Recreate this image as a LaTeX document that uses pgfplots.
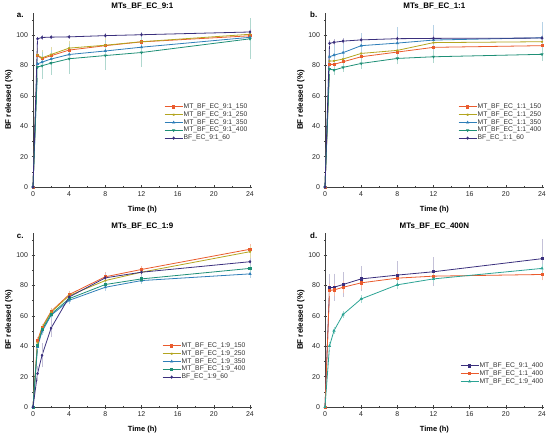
\documentclass[border=0pt]{standalone}
\usepackage{fontspec}
\setmainfont{Liberation Sans}
\usepackage{pgfplots}
\pgfplotsset{compat=1.18}
\definecolor{cor}{HTML}{EA5B2D}
\definecolor{col}{HTML}{B3A520}
\definecolor{cbl}{HTML}{2E7EB8}
\definecolor{cte}{HTML}{1E8F76}
\definecolor{cpu}{HTML}{3A2F7D}
\definecolor{cte2}{HTML}{2BA394}
\tikzset{plab/.style={font=\bfseries\fontsize{8}{9}\selectfont, anchor=base west}}
\pgfplotsset{
 panel/.style={
  scale only axis, width=218.8bp, height=174bp,
  xmin=0, xmax=24.2, ymin=0, ymax=114.5,
  axis x line*=bottom, axis y line*=left,
  axis line style={draw=black!75, line width=0.6pt, -},
  xtick={0,4,...,24}, ytick={0,20,...,100},
  minor xtick={2,6,...,22}, minor ytick={10,30,...,110},
  tick align=center, major tick length=3bp, minor tick length=2bp,
  tick style={black!75, line width=0.5pt},
  tick label style={font=\fontsize{7}{8}\selectfont, text=black!85},
  /pgf/number format/assume math mode=true,
  xlabel={Time (h)}, ylabel={BF released (\%)},
  xlabel style={font=\bfseries\fontsize{7.5}{8}\selectfont, at={(0.5,0)}, anchor=center, yshift=-23bp},
  ylabel style={font=\bfseries\fontsize{8}{9}\selectfont, at={(-0.11,0.5)}, anchor=center},
  title style={font=\bfseries\fontsize{8}{9}\selectfont, at={(0.5,1)}, anchor=base, yshift=-1.5bp},
  legend style={draw=none, fill=none, font=\fontsize{6.8}{7}\selectfont, text=black!80, anchor=north west,
    row sep=0.4pt, inner sep=0pt, nodes={inner sep=0.6pt}},
  legend cell align=left,
  legend image code/.code={\draw[mark repeat=2,mark phase=2] plot coordinates {(0bp,0bp) (9bp,0bp) (18bp,0bp)};},
  clip=false,
  every axis plot/.append style={line width=0.8pt, mark size=1.1pt},
  error bars/y dir=both, error bars/y explicit,
 },
 eb/.style={error bars/error bar style={color=#1, line width=0.4pt},
   error bars/error mark options={color=#1, mark size=1.4pt, line width=0.4pt}},
}
\begin{document}
\begin{tikzpicture}
\useasboundingbox (0,0) rectangle (550bp,439bp);
% ---------------- a
\begin{axis}[panel, at={(33bp,252bp)}, anchor=south west, title={MTs\_BF\_EC\_9:1},
  legend style={at={(0.599,0.483)}}]
\addplot[cor, mark=square*, eb=cor!40] table[y error index=2] {
0 0 0
0.5 86.4 3
1 84.4 3
2 86.4 3
4 90.1 3
8 93.0 3
12 95.5 3
24 99.5 3
};
\addlegendentry{MT\_BF\_EC\_9:1\_150}
\addplot[col, mark=star, eb=col!40] table[y error index=2] {
0 0 0
0.5 86.8 4
1 85.0 4
2 87.2 4
4 91.4 4
8 93.3 3.5
12 95.6 3
24 100.5 4
};
\addlegendentry{MT\_BF\_EC\_9:1\_250}
\addplot[cbl, mark=triangle*, eb=cbl!35] table[y error index=2] {
0 0 0
0.5 81.0 5
1 82.2 5
2 84.2 5
4 87.2 5
8 89.5 6
12 92.0 6
24 98.5 6
};
\addlegendentry{MT\_BF\_EC\_9:1\_350}
\addplot[cte, mark=triangle*, mark options={rotate=180}, eb=cte!35] table[y error index=2] {
0 0 0
0.5 78.9 6
1 79.8 8
2 81.5 6.6
4 84.4 9
8 86.5 8.5
12 88.5 8.5
24 97.5 12.5
};
\addlegendentry{MT\_BF\_EC\_9:1\_400}
\addplot[cpu, mark=diamond*, eb=cpu!35] table[y error index=2] {
0 0 0
0.5 97.5 0.6
1 98.4 0.6
2 98.6 0.6
4 98.8 0.6
8 99.6 0.6
12 100.2 0.6
24 102.0 0.8
};
\addlegendentry{BF\_EC\_9:1\_60}
\node[plab] at (rel axis cs:-0.09,0.975) {a.};
\end{axis}
% ---------------- b
\begin{axis}[panel, at={(325bp,252bp)}, anchor=south west, title={MTs\_BF\_EC\_1:1},
  legend style={at={(0.608,0.483)}}]
\addplot[cor, mark=square*, eb=cor!40] table[y error index=2] {
0 0 0
0.5 80.7 2
1 80.7 2
2 82.4 2
4 85.7 2.5
8 88.8 2.5
12 91.9 3
24 93.0 3
};
\addlegendentry{MT\_BF\_EC\_1:1\_150}
\addplot[col, mark=star, eb=col!40] table[y error index=2] {
0 0 0
0.5 82.9 2.5
1 83.0 2.5
2 84.2 2.5
4 87.9 3
8 89.9 3
12 95.0 3
24 95.6 3
};
\addlegendentry{MT\_BF\_EC\_1:1\_250}
\addplot[cbl, mark=triangle*, eb=cbl!35] table[y error index=2] {
0 0 0
0.5 85.7 5
1 86.8 6
2 88.4 6
4 93.0 7.4
8 94.7 9.5
12 96.7 9
24 98.2 9.5
};
\addlegendentry{MT\_BF\_EC\_1:1\_350}
\addplot[cte, mark=triangle*, mark options={rotate=180}, eb=cte!35] table[y error index=2] {
0 0 0
0.5 77.6 2
1 76.9 2
2 78.7 2
4 81.3 2.5
8 84.6 3
12 85.7 3
24 87.3 3.3
};
\addlegendentry{MT\_BF\_EC\_1:1\_400}
\addplot[cpu, mark=diamond*, eb=cpu!35] table[y error index=2] {
0 0 0
0.5 94.5 1
1 95.2 1
2 96.0 1
4 96.8 1
8 97.6 1
12 97.8 1
24 98.0 1
};
\addlegendentry{BF\_EC\_1:1\_60}
\node[plab] at (rel axis cs:-0.084,0.975) {b.};
\end{axis}
% ---------------- c
\begin{axis}[panel, at={(33bp,32bp)}, anchor=south west, title={MTs\_BF\_EC\_1:9},
  legend style={at={(0.59,0.374)}}]
\addplot[cor, mark=square*, eb=cor!40] table[y error index=2] {
0 0 0
0.5 43.7 1.5
1 52.5 1.5
2 62.9 1.5
4 74.0 1.5
8 85.7 2
12 90.5 1.5
24 103.8 2.5
};
\addlegendentry{MT\_BF\_EC\_1:9\_150}
\addplot[col, mark=star, eb=col!40] table[y error index=2] {
0 0 0
0.5 42.4 1.5
1 51.9 1.5
2 62.3 1.5
4 73.3 1.5
8 83.2 2
12 88.7 1.5
24 102.2 3
};
\addlegendentry{MT\_BF\_EC\_1:9\_250}
\addplot[cbl, mark=triangle*, eb=cbl!35] table[y error index=2] {
0 0 0
0.5 39.5 1.5
1 49.7 1.5
2 60.3 1.5
4 70.2 1.5
8 78.8 1.5
12 83.2 1.5
24 87.6 1.5
};
\addlegendentry{MT\_BF\_EC\_1:9\_350}
\addplot[cte, mark=square*, eb=cte!35] table[y error index=2] {
0 0 0
0.5 40.8 1.5
1 50.8 1.5
2 61.1 1.5
4 71.3 1.5
8 80.6 1.5
12 84.3 1.5
24 91.2 1.5
};
\addlegendentry{MT\_BF\_EC\_1:9\_400}
\addplot[cpu, mark=diamond*, eb=cpu!30] table[y error index=2] {
0 0 0
0.5 22.0 4
1 34.0 7
2 51.9 5
4 72.4 2
8 85.0 2
12 88.7 1.5
24 95.6 1.5
};
\addlegendentry{BF\_EC\_1:9\_60}
\node[plab] at (rel axis cs:-0.09,0.97) {c.};
\end{axis}
% ---------------- d
\begin{axis}[panel, at={(325bp,32bp)}, anchor=south west, title={MTs\_BF\_EC\_400N},
  legend style={at={(0.617,0.259)}}]
\addplot[cpu, mark=square*, eb=cpu!30] table[y error index=2] {
0 0 0
0.5 78.4 8
1 78.8 8
2 80.6 7
4 84.3 7.3
8 86.8 8.2
12 89.0 8.6
24 97.6 12
};
\addlegendentry{MT\_BF\_EC\_9:1\_400}
\addplot[cor, mark=square*, eb=cor!40] table[y error index=2] {
0 0 0
0.5 76.8 3
1 77.0 3
2 78.8 3
4 81.7 3
8 84.8 3
12 86.1 3
24 87.2 3
};
\addlegendentry{MT\_BF\_EC\_1:1\_400}
\addplot[cte2, mark=triangle*, eb=cte2!40] table[y error index=2] {
0 0 0
0.5 40.2 1.5
1 50.3 1.5
2 60.9 1.5
4 71.1 1.5
8 80.4 2
12 84.3 2
24 91.2 2
};
\addlegendentry{MT\_BF\_EC\_1:9\_400}
\node[plab] at (rel axis cs:-0.084,0.97) {d.};
\end{axis}
\end{tikzpicture}
\end{document}
